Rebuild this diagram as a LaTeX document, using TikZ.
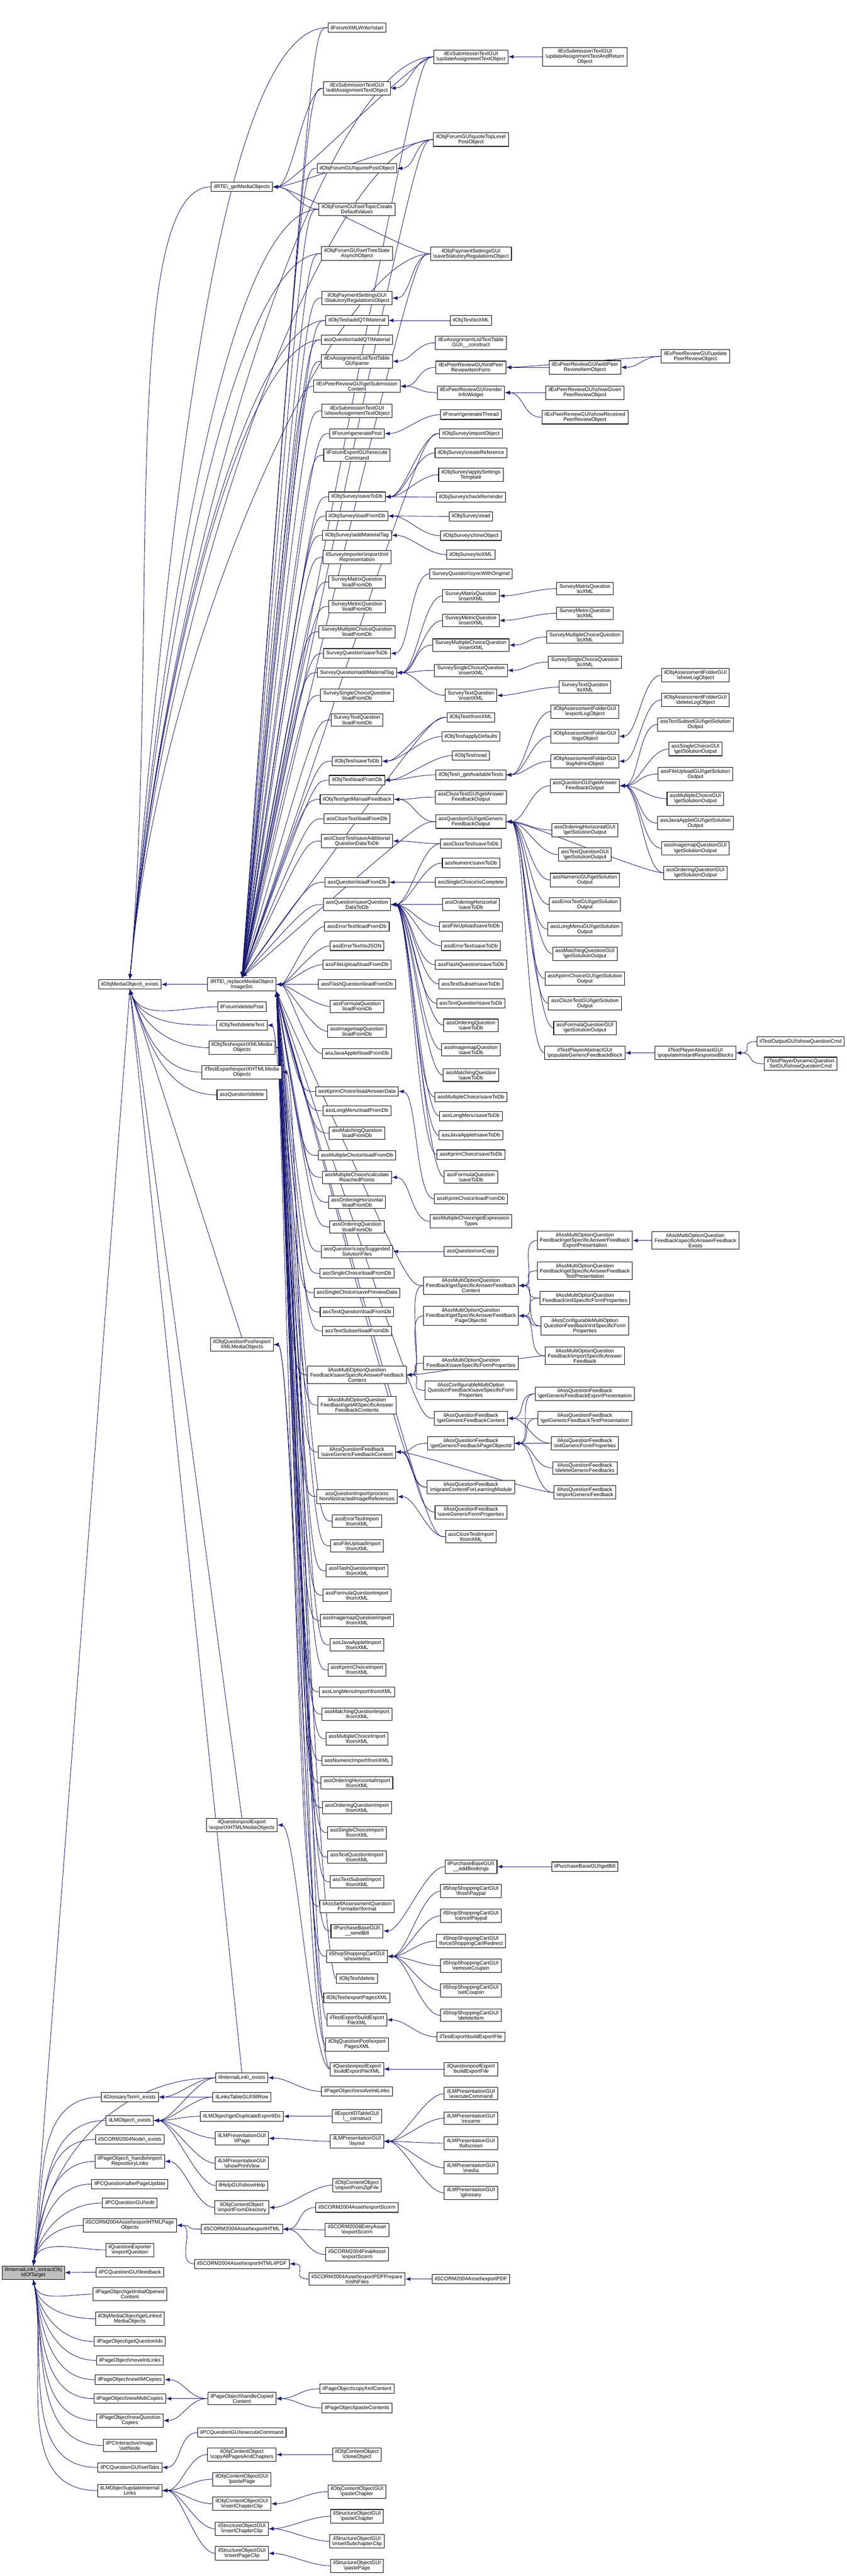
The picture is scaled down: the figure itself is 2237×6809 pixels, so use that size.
\documentclass[tikz,border=0pt]{standalone}
\usepackage{fontspec}
\setmainfont{Liberation Sans}
\usepackage{xcolor}
\usepackage{tikz}
\usetikzlibrary{backgrounds}
\definecolor{midnight}{RGB}{25,25,112}
\newcommand{\bs}{\textbackslash}
\tikzset{
    % caller graph styles
    fn/.style={rectangle, draw=black, fill=white, line width=0.4pt, inner xsep=0.07cm, inner ysep=0.045cm, minimum height=0.25cm, align=center, font=\fontsize{3.9}{3.9}\selectfont},
    rootfn/.style={fn, fill=gray!50},
    call/.style={<-, >=latex, draw=midnight, line width=0.35pt}
}
\begin{document}
\begin{tikzpicture}[x=0.01cm, y=-0.01cm]
\useasboundingbox (0,0) rectangle (2237,6809);

% Root function
\node[rootfn] (root) at (88,6007) {ilInternalLink\bs\_extractObj\\IdOfTarget};

% Direct callers
\foreach \nm/\yy/\txt in {
    mobex/2602/{ilObjMediaObject\bs\_exists},
    glossex/5543/{ilGlossaryTerm\bs\_exists},
    lmex/5605/{ilLMObject\bs\_exists},
    scoex/5655/{ilSCORM2004Node\bs\_exists},
    hirl/5713/{ilPageObject\bs\_handleImport\\RepositoryLinks},
    pcqapu/5773/{ilPCQuestion\bs afterPageUpdate},
    pcqedit/5823/{ilPCQuestionGUI\bs edit},
    exhpo/5882/{ilSCORM2004Asset\bs exportHTMLPage\\Objects},
    qexp/5947/{ilQuestionExporter\\\bs exportQuestion},
    pcqfb/6006/{ilPCQuestionGUI\bs feedback},
    gioc/6064/{ilPageObject\bs getInitialOpened\\Content},
    glmo/6129/{ilObjMediaObject\bs getLinked\\MediaObjects},
    gqids/6189/{ilPageObject\bs getQuestionIds},
    mil/6239/{ilPageObject\bs moveIntLinks},
    niim/6290/{ilPageObject\bs newIIMCopies},
    nmob/6340/{ilPageObject\bs newMobCopies},
    nqc/6398/{ilPageObject\bs newQuestion\\Copies},
    iisn/6464/{ilPCInteractiveImage\\\bs setNode},
    pcqtabs/6522/{ilPCQuestionGUI\bs setTabs},
    uil/6583/{ilLMObject\bs updateInternal\\Links}} {
    \node[fn] (\nm) at (343,\yy) {\txt};
}

% Second level
\foreach \nm/\yy/\txt in {
    rtegmo/494/{ilRTE\bs\_getMediaObjects},
    rte/2602/{ilRTE\bs\_replaceMediaObject\\ImageSrc},
    fdel/2661/{ilForum\bs deletePost},
    otdel/2710/{ilObjTest\bs deleteTest},
    otxmo/2769/{ilObjTest\bs exportXMLMedia\\Objects},
    texmo/2834/{ilTestExport\bs exportXHTMLMedia\\Objects},
    aqdel/2894/{assQuestion\bs delete},
    qpxmo/3554/{ilObjQuestionPool\bs export\\XMLMediaObjects},
    qpexmo/4824/{ilQuestionpoolExport\\\bs exportXHTMLMediaObjects},
    ilex/5492/{ilInternalLink\bs\_exists},
    ltfr/5543/{ilLinksTableGUI\bs fillRow},
    gdei/5594/{ilLMObject\bs getDuplicateExportIDs},
    lmpage/5652/{ilLMPresentationGUI\\\bs ilPage},
    lmprint/5718/{ilLMPresentationGUI\\\bs showPrintView},
    help/5777/{ilHelpGUI\bs showHelp},
    ifd/5835/{ilObjContentObject\\\bs importFromDirectory},
    exhtml/5892/{ilSCORM2004Asset\bs exportHTML},
    exhtmlpdf/5984/{ilSCORM2004Asset\bs exportHTML4PDF},
    hcc/6340/{ilPageObject\bs handleCopied\\Content},
    pcqec/6430/{ilPCQuestionGUI\bs executeCommand},
    capc/6488/{ilObjContentObject\\\bs copyAllPagesAndChapters},
    coppage/6553/{ilObjContentObjectGUI\\\bs pastePage},
    coicc/6618/{ilObjContentObjectGUI\\\bs insertChapterClip},
    soicc/6684/{ilStructureObjectGUI\\\bs insertChapterClip},
    soipc/6749/{ilStructureObjectGUI\\\bs insertPageClip}} {
    \node[fn] (\nm) at (639,\yy) {\txt};
}

% Third level
\foreach \nm/\yy/\txt in {
    fxw/73/{ilForumXMLWriter\bs start},
    eato/233/{ilExSubmissionTextGUI\\\bs editAssignmentTextObject},
    qpo/445/{ilObjForumGUI\bs quotePostObject},
    stcdv/553/{ilObjForumGUI\bs setTopicCreate\\DefaultValues},
    stsao/670/{ilObjForumGUI\bs setTreeState\\AsynchObject},
    sro/788/{ilObjPaymentSettingsGUI\\\bs StatutoryRegulationsObject},
    otqti/847/{ilObjTest\bs addQTIMaterial},
    aqqti/898/{assQuestion\bs addQTIMaterial},
    altparse/955/{ilExAssignmentListTextTable\\GUI\bs parse},
    gsc/1021/{ilExPeerReviewGUI\bs getSubmission\\Content},
    sato/1086/{ilExSubmissionTextGUI\\\bs showAssignmentTextObject},
    fgp/1146/{ilForum\bs generatePost},
    fexec/1203/{ilForumExportGUI\bs execute\\Command},
    ossave/1313/{ilObjSurvey\bs saveToDb},
    osload/1364/{ilObjSurvey\bs loadFromDb},
    osamt/1415/{ilObjSurvey\bs addMaterialTag},
    sixr/1473/{ilSurveyImporter\bs importXml\\Representation},
    smxload/1538/{SurveyMatrixQuestion\\\bs loadFromDb},
    smtload/1603/{SurveyMetricQuestion\\\bs loadFromDb},
    smcload/1670/{SurveyMultipleChoiceQuestion\\\bs loadFromDb},
    sqsave/1727/{SurveyQuestion\bs saveToDb},
    sqamt/1778/{SurveyQuestion\bs addMaterialTag},
    sscload/1838/{SurveySingleChoiceQuestion\\\bs loadFromDb},
    stxload/1903/{SurveyTextQuestion\\\bs loadFromDb},
    otsave/2012/{ilObjTest\bs saveToDb},
    otload/2062/{ilObjTest\bs loadFromDb},
    otgmf/2113/{ilObjTest\bs getManualFeedback},
    ctload/2164/{assClozeTest\bs loadFromDb},
    ctsaqd/2223/{assClozeTest\bs saveAdditional\\QuestionDataToDb},
    aqload/2332/{assQuestion\bs loadFromDb},
    aqsqd/2391/{assQuestion\bs saveQuestion\\DataToDb},
    etload/2449/{assErrorText\bs loadFromDb},
    etjson/2500/{assErrorText\bs toJSON},
    fuload/2550/{assFileUpload\bs loadFromDb},
    flload/2602/{assFlashQuestion\bs loadFromDb},
    fqload/2660/{assFormulaQuestion\\\bs loadFromDb},
    imload/2726/{assImagemapQuestion\\\bs loadFromDb},
    jaload/2785/{assJavaApplet\bs loadFromDb},
    kpad/2885/{assKprimChoice\bs loadAnswerData},
    lmload/2936/{assLongMenu\bs loadFromDb},
    mqload/2995/{assMatchingQuestion\\\bs loadFromDb},
    mcload/3054/{assMultipleChoice\bs loadFromDb},
    mccrp/3112/{assMultipleChoice\bs calculate\\ReachedPoints},
    ohload/3178/{assOrderingHorizontal\\\bs loadFromDb},
    oqload/3243/{assOrderingQuestion\\\bs loadFromDb},
    aqcssf/3308/{assQuestion\bs copySuggested\\SolutionFiles},
    scload/3366/{assSingleChoice\bs loadFromDb},
    scspd/3417/{assSingleChoice\bs savePreviewData},
    tqload/3468/{assTextQuestion\bs loadFromDb},
    tsload/3518/{assTextSubset\bs loadFromDb},
    mossafc/3634/{ilAssMultiOptionQuestion\\Feedback\bs saveSpecificAnswerFeedback\\Content},
    mogasfc/3714/{ilAssMultiOptionQuestion\\Feedback\bs getAllSpecificAnswer\\FeedbackContents},
    qfsgfc/3838/{ilAssQuestionFeedback\\\bs saveGenericFeedbackContent},
    qipnair/3956/{assQuestionImport\bs process\\NonAbstractedImageReferences},
    etimp/4021/{assErrorTextImport\\\bs fromXML},
    fuimp/4086/{assFileUploadImport\\\bs fromXML},
    flimp/4152/{assFlashQuestionImport\\\bs fromXML},
    fqimp/4217/{assFormulaQuestionImport\\\bs fromXML},
    imimp/4283/{assImagemapQuestionImport\\\bs fromXML},
    jaimp/4348/{assJavaAppletImport\\\bs fromXML},
    kpimp/4414/{assKprimChoiceImport\\\bs fromXML},
    lmimp/4472/{assLongMenuImport\bs fromXML},
    mqimp/4531/{assMatchingQuestionImport\\\bs fromXML},
    mcimp/4596/{assMultipleChoiceImport\\\bs fromXML},
    nuimp/4654/{assNumericImport\bs fromXML},
    ohimp/4713/{assOrderingHorizontalImport\\\bs fromXML},
    oqimp/4778/{assOrderingQuestionImport\\\bs fromXML},
    scimp/4844/{assSingleChoiceImport\\\bs fromXML},
    tqimp/4909/{assTextQuestionImport\\\bs fromXML},
    tsimp/4974/{assTextSubsetImport\\\bs fromXML},
    saqf/5039/{ilAssSelfAssessmentQuestion\\Formatter\bs format},
    pbsb/5104/{ilPurchaseBaseGUI\bs\\\_\_sendBill},
    sscshow/5171/{ilShopShoppingCartGUI\\\bs showItems},
    otdelete/5230/{ilObjTest\bs delete},
    otepx/5281/{ilObjTest\bs exportPagesXML},
    tebefx/5339/{ilTestExport\bs buildExport\\FileXML},
    qpepx/5404/{ilObjQuestionPool\bs export\\PagesXML},
    qpebefx/5469/{ilQuestionpoolExport\\\bs buildExportFileXML},
    poril/5528/{ilPageObject\bs resolveIntLinks},
    eitc/5594/{ilExportIDTableGUI\\\bs\_\_construct},
    lmlayout/5660/{ilLMPresentationGUI\\\bs layout},
    coifz/5776/{ilObjContentObject\\\bs importFromZipFile},
    saes/5835/{ilSCORM2004Asset\bs exportScorm},
    seaes/5894/{ilSCORM2004EntryAsset\\\bs exportScorm},
    sfaes/5959/{ilSCORM2004FinalAsset\\\bs exportScorm},
    sapdf/6024/{ilSCORM2004Asset\bs exportPDFPrepare\\XmlNFiles},
    pocxc/6314/{ilPageObject\bs copyXmlContent},
    popc/6365/{ilPageObject\bs pasteContents},
    cocl/6488/{ilObjContentObject\\\bs cloneObject},
    copch/6586/{ilObjContentObjectGUI\\\bs pasteChapter},
    sopch/6651/{ilStructureObjectGUI\\\bs pasteChapter},
    soisc/6717/{ilStructureObjectGUI\\\bs insertSubchapterClip},
    soppg/6782/{ilStructureObjectGUI\\\bs pastePage}} {
    \node[fn] (\nm) at (943,\yy) {\txt};
}

% Fourth level
\foreach \nm/\yy/\txt in {
    uato/150/{ilExSubmissionTextGUI\\\bs updateAssignmentTextObject},
    qtlpo/369/{ilObjForumGUI\bs quoteTopLevel\\PostObject},
    ssro/671/{ilObjPaymentSettingsGUI\\\bs saveStatutoryRegulationsObject},
    ottoxml/847/{ilObjTest\bs toXML},
    altcon/906/{ilExAssignmentListTextTable\\GUI\bs\_\_construct},
    iprif/971/{ilExPeerReviewGUI\bs initPeer\\ReviewItemForm},
    riw/1038/{ilExPeerReviewGUI\bs render\\InfoWidget},
    fgt/1096/{ilForum\bs generateThread},
    osimp/1146/{ilObjSurvey\bs importObject},
    oscr/1197/{ilObjSurvey\bs createReference},
    osast/1255/{ilObjSurvey\bs applySettings\\Template},
    oscrem/1314/{ilObjSurvey\bs checkReminder},
    osread/1365/{ilObjSurvey\bs read},
    osclone/1416/{ilObjSurvey\bs cloneObject},
    ostoxml/1466/{ilObjSurvey\bs toXML},
    sqswo/1517/{SurveyQuestion\bs syncWithOriginal},
    smxins/1575/{SurveyMatrixQuestion\\\bs insertXML},
    smtins/1640/{SurveyMetricQuestion\\\bs insertXML},
    smcins/1705/{SurveyMultipleChoiceQuestion\\\bs insertXML},
    sscins/1772/{SurveySingleChoiceQuestion\\\bs insertXML},
    stxins/1838/{SurveyTextQuestion\\\bs insertXML},
    otfxml/1896/{ilObjTest\bs fromXML},
    otad/1947/{ilObjTest\bs applyDefaults},
    otread/1997/{ilObjTest\bs read},
    otgat/2048/{ilObjTest\bs\_getAvailableTests},
    ctgafo/2107/{assClozeTestGUI\bs getAnswer\\FeedbackOutput},
    qggfo/2172/{assQuestionGUI\bs getGeneric\\FeedbackOutput},
    ctsave/2230/{assClozeTest\bs saveToDb},
    nusave/2281/{assNumeric\bs saveToDb},
    scic/2332/{assSingleChoice\bs isComplete},
    ohsave/2391/{assOrderingHorizontal\\\bs saveToDb},
    fusave/2449/{assFileUpload\bs saveToDb},
    etsave/2500/{assErrorText\bs saveToDb},
    flsave/2550/{assFlashQuestion\bs saveToDb},
    tssave/2601/{assTextSubset\bs saveToDb},
    tqsave/2652/{assTextQuestion\bs saveToDb},
    oqsave/2710/{assOrderingQuestion\\\bs saveToDb},
    imsave/2775/{assImagemapQuestion\\\bs saveToDb},
    mqsave/2842/{assMatchingQuestion\\\bs saveToDb},
    mcsave/2900/{assMultipleChoice\bs saveToDb},
    lmsave/2950/{assLongMenu\bs saveToDb},
    jasave/3001/{assJavaApplet\bs saveToDb},
    kpsave/3052/{assKprimChoice\bs saveToDb},
    fqsave/3111/{assFormulaQuestion\\\bs saveToDb},
    kpload/3169/{assKprimChoice\bs loadFromDb},
    mcget/3228/{assMultipleChoice\bs getExpression\\Types},
    aqoc/3308/{assQuestion\bs onCopy},
    mogsafc/3398/{ilAssMultiOptionQuestion\\Feedback\bs getSpecificAnswerFeedback\\Content},
    mogsafp/3478/{ilAssMultiOptionQuestion\\Feedback\bs getSpecificAnswerFeedback\\PageObjectId},
    mossfp/3603/{ilAssMultiOptionQuestion\\Feedback\bs saveSpecificFormProperties},
    cmossfp/3675/{ilAssConfigurableMultiOption\\QuestionFeedback\bs saveSpecificForm\\Properties},
    qfggfc/3749/{ilAssQuestionFeedback\\\bs getGenericFeedbackContent},
    qfggfp/3815/{ilAssQuestionFeedback\\\bs getGenericFeedbackPageObjectId},
    qfmcl/3931/{ilAssQuestionFeedback\\\bs migrateContentForLearningModule},
    qfsgfp/3997/{ilAssQuestionFeedback\\\bs saveGenericFormProperties},
    ctimp/4062/{assClozeTestImport\\\bs fromXML},
    pbab/4934/{ilPurchaseBaseGUI\bs\\\_\_addBookings},
    sscfp/4999/{ilShopShoppingCartGUI\\\bs finishPaypal},
    ssccp/5064/{ilShopShoppingCartGUI\\\bs cancelPaypal},
    sscfr/5131/{ilShopShoppingCartGUI\\\bs forceShoppingCartRedirect},
    sscrc/5196/{ilShopShoppingCartGUI\\\bs removeCoupon},
    sscsc/5261/{ilShopShoppingCartGUI\\\bs setCoupon},
    sscdi/5327/{ilShopShoppingCartGUI\\\bs deleteItem},
    tebef/5384/{ilTestExport\bs buildExportFile},
    qpebef/5469/{ilQuestionpoolExport\\\bs buildExportFile},
    lmexec/5534/{ilLMPresentationGUI\\\bs executeCommand},
    lmres/5599/{ilLMPresentationGUI\\\bs resume},
    lmfull/5665/{ilLMPresentationGUI\\\bs fullscreen},
    lmmedia/5730/{ilLMPresentationGUI\\\bs media},
    lmgloss/5796/{ilLMPresentationGUI\\\bs glossary},
    saexpdf/6024/{ilSCORM2004Asset\bs exportPDF}} {
    \node[fn] (\nm) at (1244,\yy) {\txt};
}

% Fifth level
\foreach \nm/\yy/\txt in {
    uatro/150/{ilExSubmissionTextGUI\\\bs updateAssignmentTextAndReturn\\Object},
    epriio/971/{ilExPeerReviewGUI\bs editPeer\\ReviewItemObject},
    sgpro/1038/{ilExPeerReviewGUI\bs showGiven\\PeerReviewObject},
    srpro/1103/{ilExPeerReviewGUI\bs showReceived\\PeerReviewObject},
    smxtx/1556/{SurveyMatrixQuestion\\\bs toXML},
    smttx/1621/{SurveyMetricQuestion\\\bs toXML},
    smctx/1684/{SurveyMultipleChoiceQuestion\\\bs toXML},
    ssctx/1750/{SurveySingleChoiceQuestion\\\bs toXML},
    stxtx/1816/{SurveyTextQuestion\\\bs toXML},
    afelo/1881/{ilObjAssessmentFolderGUI\\\bs exportLogObject},
    aflo/1946/{ilObjAssessmentFolderGUI\\\bs logsObject},
    afla/2012/{ilObjAssessmentFolderGUI\\\bs logAdminObject},
    qgafo/2077/{assQuestionGUI\bs getAnswer\\FeedbackOutput},
    ohgso/2194/{assOrderingHorizontalGUI\\\bs getSolutionOutput},
    tqgso/2259/{assTextQuestionGUI\\\bs getSolutionOutput},
    nugso/2326/{assNumericGUI\bs getSolution\\Output},
    etgso/2391/{assErrorTextGUI\bs getSolution\\Output},
    lmgso/2456/{assLongMenuGUI\bs getSolution\\Output},
    mqgso/2521/{assMatchingQuestionGUI\\\bs getSolutionOutput},
    kpgso/2587/{assKprimChoiceGUI\bs getSolution\\Output},
    ctgso/2652/{assClozeTestGUI\bs getSolution\\Output},
    fqgso/2717/{assFormulaQuestionGUI\\\bs getSolutionOutput},
    tppgfb/2783/{ilTestPlayerAbstractGUI\\\bs populateGenericFeedbackBlock},
    mogsafep/3279/{ilAssMultiOptionQuestion\\Feedback\bs getSpecificAnswerFeedback\\ExportPresentation},
    mogsaftp/3359/{ilAssMultiOptionQuestion\\Feedback\bs getSpecificAnswerFeedback\\TestPresentation},
    moisfp/3431/{ilAssMultiOptionQuestion\\Feedback\bs initSpecificFormProperties},
    cmoisfp/3505/{ilAssConfigurableMultiOption\\QuestionFeedback\bs initSpecificForm\\Properties},
    moisaf/3584/{ilAssMultiOptionQuestion\\Feedback\bs importSpecificAnswer\\Feedback},
    qfggfep/3684/{ilAssQuestionFeedback\\\bs getGenericFeedbackExportPresentation},
    qfggftp/3749/{ilAssQuestionFeedback\\\bs getGenericFeedbackTestPresentation},
    qfigfp/3815/{ilAssQuestionFeedback\\\bs initGenericFormProperties},
    qfdgf/3880/{ilAssQuestionFeedback\\\bs deleteGenericFeedbacks},
    qfigf/3945/{ilAssQuestionFeedback\\\bs importGenericFeedback},
    pbgb/4934/{ilPurchaseBaseGUI\bs getBill}} {
    \node[fn] (\nm) at (1545,\yy) {\txt};
}

% Sixth level
\foreach \nm/\yy/\txt in {
    eprpro/942/{ilExPeerReviewGUI\bs update\\PeerReviewObject},
    afslo/1785/{ilObjAssessmentFolderGUI\\\bs showLogObject},
    afdlo/1850/{ilObjAssessmentFolderGUI\\\bs deleteLogObject},
    tsgso/1915/{assTextSubsetGUI\bs getSolution\\Output},
    scgso/1980/{assSingleChoiceGUI\\\bs getSolutionOutput},
    fugso/2046/{assFileUploadGUI\bs getSolution\\Output},
    mcgso/2111/{assMultipleChoiceGUI\\\bs getSolutionOutput},
    jagso/2176/{assJavaAppletGUI\bs getSolution\\Output},
    imgso/2242/{assImagemapQuestionGUI\\\bs getSolutionOutput},
    oqgso/2307/{assOrderingQuestionGUI\\\bs getSolutionOutput},
    tppirb/2783/{ilTestPlayerAbstractGUI\\\bs populateInstantResponseBlocks},
    mosafe/3279/{ilAssMultiOptionQuestion\\Feedback\bs specificAnswerFeedback\\Exists}} {
    \node[fn] (\nm) at (1837,\yy) {\txt};
}

% Seventh level
\node[fn] (tosqc) at (2115,2753) {ilTestOutputGUI\bs showQuestionCmd};
\node[fn] (tpdsqc) at (2115,2812) {ilTestPlayerDynamicQuestion\\SetGUI\bs showQuestionCmd};

\begin{scope}[on background layer]
\fill[white] (0,0) rectangle (2237,6809);
% Calls into the root
\draw[call] (root.north) -- (mobex.south);
\draw[call] (root.north) to[out=85, in=180] (ilex.west);
\foreach \c in {glossex,lmex,scoex,hirl,pcqapu,pcqedit,exhpo,qexp}
    \draw[call] (root.north) to[out=80, in=180] (\c.west);
\draw[call] (root.east) -- (pcqfb.west);
\foreach \c in {gioc,glmo,gqids,mil,niim,nmob,nqc,iisn,pcqtabs,uil}
    \draw[call] (root.south) to[out=-80, in=180] (\c.west);

% Calls into ilObjMediaObject::_exists
\draw[call] (mobex.east) -- (rte.west);
\foreach \c in {fxw,uato,qtlpo,rtegmo,stcdv,ssro,stsao,otqti,aqqti}
    \draw[call] (mobex.north) to[out=85, in=180, out looseness=1.1, in looseness=0.3] (\c.west);
\foreach \c in {fdel,otdel,otxmo,texmo,aqdel}
    \draw[call] (mobex.south) to[out=-70, in=180] (\c.west);
\foreach \c in {qpxmo,qpexmo,ilex}
    \draw[call] (mobex.south) -- (\c.north);

% Calls into ilRTE::_replaceMediaObjectImageSrc
\foreach \c in {fxw,eato,qpo,stcdv,stsao,sro,otqti,aqqti,altparse,gsc,sato,fgp,fexec,
    ossave,osload,osamt,sixr,smxload,smtload,smcload,sqsave,sqamt,sscload,stxload,
    otsave,otload,otgmf,ctload,ctsaqd,aqload,aqsqd,uato,qtlpo,ssro,osimp,otfxml,qggfo}
    \draw[call] (rte.north) .. controls +(0,0) and +(-40,0) .. (\c.west);
\foreach \c in {etload,etjson,fuload,flload,fqload,imload,jaload}
    \draw[call] (rte.east) .. controls +(30,0) and +(-40,0) .. (\c.west);
\foreach \c in {kpad,lmload,mqload,mcload,mccrp,ohload,oqload,aqcssf,scload,scspd,tqload,tsload,
    mossafc,mogasfc,qfsgfc,qipnair,etimp,fuimp,flimp,fqimp,imimp,jaimp,kpimp,lmimp,mqimp,
    mcimp,nuimp,ohimp,oqimp,scimp,tqimp,tsimp,saqf,pbsb,sscshow,mogsafc,qfggfc,qfmcl,ctimp}
    \draw[call] (rte.south east) .. controls +(0,0) and +(-40,0) .. (\c.west);

% Remaining calls, callee/caller
\foreach \a/\b in {glossex/ilex,glossex/ltfr,lmex/ilex,lmex/ltfr,lmex/gdei,lmex/lmpage,
    lmex/lmprint,lmex/help,hirl/ifd,exhpo/exhtml,exhpo/exhtmlpdf,niim/hcc,nmob/hcc,nqc/hcc,
    pcqtabs/pcqec,uil/capc,uil/coppage,uil/coicc,uil/soicc,uil/soipc,
    rtegmo/eato,rtegmo/stcdv,rtegmo/uato,rtegmo/qtlpo,rtegmo/ssro,
    otdel/otdelete,otxmo/otepx,texmo/tebefx,qpxmo/qpepx,qpxmo/qpebefx,qpexmo/qpebefx,
    ilex/poril,gdei/eitc,lmpage/lmlayout,ifd/coifz,exhtml/saes,exhtml/seaes,exhtml/sfaes,
    exhtmlpdf/sapdf,hcc/pocxc,hcc/popc,capc/cocl,coicc/copch,soicc/sopch,soicc/soisc,soipc/soppg,
    eato/uato,qpo/qtlpo,sro/ssro,otqti/ottoxml,altparse/altcon,gsc/iprif,gsc/riw,fgp/fgt,
    ossave/osimp,ossave/oscr,ossave/osast,ossave/oscrem,osload/osread,osload/osclone,
    osamt/ostoxml,sqsave/sqswo,sqamt/smxins,sqamt/smtins,sqamt/smcins,sqamt/sscins,sqamt/stxins,
    otsave/otfxml,otsave/otad,otload/otread,otload/otgat,otgmf/ctgafo,otgmf/qggfo,
    ctsaqd/ctsave,aqsqd/ctsave,aqsqd/nusave,aqload/scic,aqsqd/ohsave,aqsqd/fusave,aqsqd/etsave,
    aqsqd/flsave,aqsqd/tssave,aqsqd/tqsave,aqsqd/oqsave,aqsqd/imsave,aqsqd/mqsave,aqsqd/mcsave,
    aqsqd/lmsave,aqsqd/jasave,aqsqd/kpsave,aqsqd/fqsave,kpad/kpload,mccrp/mcget,aqcssf/aqoc,
    mossafc/mogsafc,mossafc/mogsafp,mossafc/mossfp,mossafc/cmossfp,qfsgfc/qfggfp,qfsgfc/qfmcl,
    qfsgfc/qfsgfp,qipnair/ctimp,pbsb/pbab,sscshow/sscfp,sscshow/ssccp,sscshow/sscfr,
    sscshow/sscrc,sscshow/sscsc,sscshow/sscdi,tebefx/tebef,qpebefx/qpebef,lmlayout/lmexec,
    lmlayout/lmres,lmlayout/lmfull,lmlayout/lmmedia,lmlayout/lmgloss,sapdf/saexpdf,
    uato/uatro,iprif/epriio,riw/sgpro,riw/srpro,smxins/smxtx,smtins/smttx,smcins/smctx,
    sscins/ssctx,stxins/stxtx,otgat/afelo,otgat/aflo,otgat/afla,qggfo/qgafo,qggfo/ohgso,
    qggfo/tqgso,qggfo/nugso,qggfo/etgso,qggfo/lmgso,qggfo/mqgso,qggfo/kpgso,qggfo/ctgso,
    qggfo/fqgso,qggfo/tppgfb,mogsafc/mogsafep,mogsafc/mogsaftp,mogsafc/moisfp,mogsafp/moisfp,
    mogsafc/cmoisfp,mogsafp/cmoisfp,mogsafp/moisaf,qfggfc/qfggfep,qfggfp/qfggfep,
    qfggfc/qfggftp,qfggfp/qfggftp,qfggfc/qfigfp,qfggfp/qfigfp,qfggfp/qfdgf,qfggfp/qfigf,
    pbab/pbgb,mossafc/moisaf,qfsgfc/qfigf,
    iprif/eprpro,epriio/eprpro,aflo/afslo,afla/afdlo,qgafo/tsgso,qgafo/scgso,qgafo/fugso,
    qgafo/mcgso,qgafo/jagso,qgafo/imgso,qgafo/oqgso,qggfo/oqgso,tppgfb/tppirb,mogsafep/mosafe,
    tppirb/tosqc,tppirb/tpdsqc}
    \draw[call] (\a.east) .. controls +(50,0) and +(-50,0) .. (\b.west);
\end{scope}
\end{tikzpicture}
\end{document}
